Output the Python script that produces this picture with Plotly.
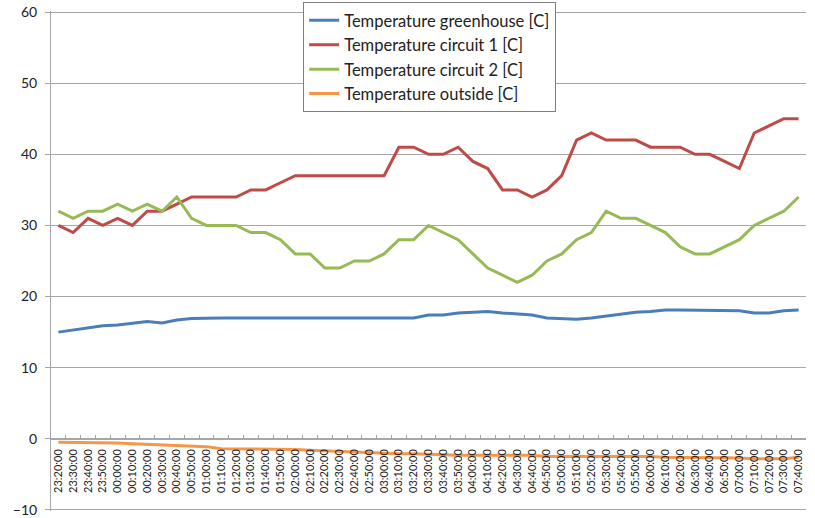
import plotly.graph_objs as go

# category labels, 10 minute steps through the night
times = ['23:20:00', '23:30:00', '23:40:00', '23:50:00',
         '00:00:00', '00:10:00', '00:20:00', '00:30:00', '00:40:00', '00:50:00',
         '01:00:00', '01:10:00', '01:20:00', '01:30:00', '01:40:00', '01:50:00',
         '02:00:00', '02:10:00', '02:20:00', '02:30:00', '02:40:00', '02:50:00',
         '03:00:00', '03:10:00', '03:20:00', '03:30:00', '03:40:00', '03:50:00',
         '04:00:00', '04:10:00', '04:20:00', '04:30:00', '04:40:00', '04:50:00',
         '05:00:00', '05:10:00', '05:20:00', '05:30:00', '05:40:00', '05:50:00',
         '06:00:00', '06:10:00', '06:20:00', '06:30:00', '06:40:00', '06:50:00',
         '07:00:00', '07:10:00', '07:20:00', '07:30:00', '07:40:00']

greenhouse = [15.0, 15.3, 15.6, 15.9, 16.0, 16.3, 16.5, 16.3, 16.7, 16.9,
              17.0, 17.0, 17.0, 17.0, 16.9, 17.0, 17.0, 17.0, 16.9, 17.0,
              16.9, 17.0, 17.0, 17.0, 17.0, 17.4, 17.4, 17.7, 17.8, 17.9,
              17.7, 17.6, 17.4, 17.0, 16.9, 16.8, 17.0, 17.3, 17.5, 17.8,
              17.9, 18.1, 18.1, 18.1, 18.1, 18.1, 18.0, 17.7, 17.7, 18.0,
              18.1]

circuit1 = [30, 29, 31, 30, 31, 30, 32, 32, 33, 34,
            34, 34, 34, 35, 35, 36, 37, 37, 37, 37,
            37, 37, 37, 41, 41, 40, 40, 41, 39, 38,
            35, 35, 34, 35, 37, 42, 43, 42, 42, 42,
            41, 41, 41, 40, 40, 39, 38, 43, 44, 45,
            45]

circuit2 = [32, 31, 32, 32, 33, 32, 33, 32, 34, 31,
            30, 30, 30, 29, 29, 28, 26, 26, 24, 24,
            25, 25, 26, 28, 28, 30, 29, 28, 26, 24,
            23, 22, 23, 25, 26, 28, 29, 32, 31, 31,
            30, 29, 27, 26, 26, 27, 28, 30, 31, 32,
            34]

outside = [-0.5, -0.5, -0.6, -0.6, -0.6, -0.7, -0.8, -0.8, -1.0, -1.0,
           -1.1, -1.4, -1.4, -1.4, -1.5, -1.5, -1.5, -1.6, -1.7, -1.7,
           -1.8, -1.9, -2.0, -2.1, -2.1, -2.2, -2.2, -2.3, -2.3, -2.3,
           -2.3, -2.4, -2.3, -2.5, -2.5, -2.5, -2.5, -2.5, -2.4, -2.4,
           -2.5, -2.6, -2.6, -2.6, -2.6, -2.6, -2.7, -2.8, -2.8, -2.8,
           -2.6]

series = [
    ('Temperature greenhouse [C]', greenhouse, '#4A7EBB'),
    ('Temperature circuit 1 [C]', circuit1, '#BE4B48'),
    ('Temperature circuit 2 [C]', circuit2, '#98B954'),
    ('Temperature outside [C]', outside, '#F79646'),
]

data = []
for name, values, color in series:
    data.append(go.Scatter(
        x=times,
        y=values,
        mode='lines',
        name=name,
        legendgroup=name,
        line=dict(color=color, width=3)))

font = 'Lato, Open Sans, sans-serif'

# y range padded a hair so plotly keeps the gridlines at -10 and 60
layout = dict(
    width=815,
    height=518,
    paper_bgcolor='white',
    plot_bgcolor='white',
    font=dict(family=font, color='#222222'),
    showlegend=True,
    legend=dict(
        x=0.334,
        y=1.018,
        xanchor='left',
        yanchor='top',
        bgcolor='white',
        bordercolor='#7f7f7f',
        borderwidth=1,
        itemwidth=30,
        traceorder='grouped',
        tracegroupgap=0,
        font=dict(size=16.5, family=font, color='#222222')),
    xaxis=dict(
        type='category',
        range=[-0.5, len(times) - 0.5],
        anchor='free',
        position=10.15 / 70.3,
        showline=True,
        linecolor='#a6a6a6',
        showgrid=False,
        ticks='inside',
        ticklen=4,
        tickcolor='#a6a6a6',
        tickson='boundaries',
        tickangle=-90,
        ticklabelstandoff=5,
        tickfont=dict(size=11, family=font, color='#222222')),
    yaxis=dict(
        range=[-10.15, 60.15],
        tick0=0,
        dtick=10,
        showline=True,
        linecolor='#a6a6a6',
        gridcolor='#a6a6a6',
        zeroline=False,
        ticks='outside',
        ticklen=5,
        tickcolor='#a6a6a6',
        ticklabelstandoff=5,
        tickfont=dict(size=14, family=font, color='#222222')),
    margin=dict(
        l=51,
        r=9,
        t=11,
        b=7,
        pad=0,
        autoexpand=False))

fig = go.Figure(data=data, layout=layout)
# drop the default body margin so the figure starts at the page corner
fig.write_html('out.html',
               config=dict(displayModeBar=False),
               post_script="document.body.style.margin = '0';")
